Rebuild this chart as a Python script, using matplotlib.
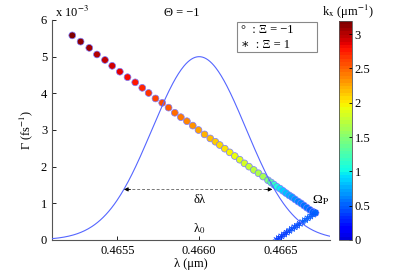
import matplotlib
matplotlib.use('Agg')
import matplotlib.pyplot as plt
from matplotlib.colors import ListedColormap
import numpy as np

plt.rcParams['font.family'] = ['Liberation Serif', 'DejaVu Serif']
plt.rcParams['mathtext.fontset'] = 'stix'
plt.rcParams['font.size'] = 9

# Xi = -1 branch (circles): wavelength (um), growth rate (1e-3 fs^-1), kx (um^-1)
lam_circ = [0.465224, 0.465275, 0.465328, 0.465375, 0.465424, 0.465468, 0.465515,
            0.465562, 0.465609, 0.465652, 0.465691, 0.465733, 0.465774, 0.465813,
            0.465851, 0.465888, 0.465925, 0.465961, 0.465996, 0.466033, 0.466068,
            0.466099, 0.466126, 0.466157, 0.466187, 0.466218, 0.466248, 0.466277,
            0.466305, 0.466334, 0.466363, 0.466391, 0.466421, 0.466440, 0.466458,
            0.466476, 0.466495, 0.466513, 0.466531, 0.466550, 0.466568, 0.466586,
            0.466605, 0.466623, 0.466641, 0.466659, 0.466678, 0.466696, 0.466711]
gam_circ = [5.58, 5.41, 5.24, 5.06, 4.91, 4.75, 4.59, 4.44, 4.30, 4.15, 4.01, 3.86,
            3.74, 3.61, 3.47, 3.35, 3.24, 3.12, 3.00, 2.88, 2.77, 2.68, 2.59, 2.49,
            2.39, 2.29, 2.19, 2.09, 2.00, 1.91, 1.82, 1.73, 1.63, 1.57, 1.51, 1.45,
            1.40, 1.34, 1.28, 1.22, 1.17, 1.11, 1.05, 1.00, 0.94, 0.88, 0.82, 0.77, 0.74]
kx_circ = [3.15, 3.10, 3.05, 3.00, 2.95, 2.90, 2.85, 2.80, 2.75, 2.70, 2.65, 2.60,
           2.55, 2.50, 2.45, 2.40, 2.35, 2.30, 2.25, 2.20, 2.15, 2.10, 2.05, 2.00,
           1.95, 1.90, 1.85, 1.80, 1.75, 1.70, 1.65, 1.60, 1.45, 1.30, 1.15, 1.05,
           0.95, 0.88, 0.82, 0.76, 0.71, 0.67, 0.63, 0.60, 0.57, 0.55, 0.53, 0.51, 0.50]

# Xi = 1 branch (stars)
lam_star = [0.466711, 0.466695, 0.466679, 0.466663, 0.466647, 0.466631, 0.466615,
            0.466599, 0.466583, 0.466567, 0.466551, 0.466535, 0.466519, 0.466503,
            0.466487, 0.466473]
gam_star = [0.74, 0.69, 0.64, 0.59, 0.54, 0.49, 0.44, 0.39, 0.35, 0.30, 0.25, 0.20,
            0.15, 0.10, 0.05, 0.00]
kx_star = [0.50, 0.49, 0.48, 0.47, 0.46, 0.45, 0.44, 0.43, 0.42, 0.41, 0.40, 0.39,
           0.38, 0.37, 0.36, 0.35]

# pump spectrum (gaussian) parameters
lam0 = 0.4660
pump_peak = 5.0
pump_sigma = 0.000287

# delta-lambda arrow
dl_left = 0.465540
dl_right = 0.466448
dl_level = 1.38

kx_max = 3.19
cbar_ticks = [0, 0.5, 1, 1.5, 2, 2.5, 3]
cbar_labels = ['0', '0.5', '1', '1.5', '2', '2.5', '3']
x_ticks = [0.4655, 0.4660, 0.4665]
x_labels = ['0.4655', '0.4660', '0.4665']
y_ticks = [0, 1, 2, 3, 4, 5, 6]

fig = plt.figure(figsize=(3.99, 2.71), dpi=100)
ax = fig.add_axes([0.1303, 0.1144, 0.6967, 0.8118])
# jet without its darkest blues, in 64 steps like the reference colour bar
cmap = ListedColormap(plt.get_cmap('jet')(np.linspace(0.08, 1.0, 64)))

lam_line = np.linspace(0.4651, 0.4668, 300)
gauss = pump_peak * np.exp(-(lam_line - lam0) ** 2 / (2 * pump_sigma ** 2))

sc = ax.scatter(lam_circ, gam_circ, c=kx_circ, cmap=cmap, vmin=0, vmax=kx_max,
                s=24, marker='o', edgecolors='#7a7aff', linewidths=0.5, zorder=3)
ax.scatter(lam_star, gam_star, c=kx_star, cmap=cmap, vmin=0, vmax=kx_max,
           s=26, marker=(8, 2, 0), linewidths=0.4, alpha=0.85, zorder=3)
ax.plot(lam_line, gauss, color='#5566ff', lw=0.8, zorder=4)

ax.plot([dl_left + 0.00002, dl_right - 0.00002], [dl_level, dl_level],
        ls=(0, (3, 2)), color='#777777', lw=0.7, zorder=2)
for x0, x1 in [(dl_left + 0.00004, dl_left), (dl_right - 0.00004, dl_right)]:
    ax.annotate('', xy=(x1, dl_level), xytext=(x0, dl_level),
                arrowprops=dict(arrowstyle='-|>', color='black', lw=0.6,
                                mutation_scale=6, shrinkA=0, shrinkB=0), zorder=5)

ax.text(0.4660, 1.08, 'δλ', ha='center', va='center', fontsize=9)
ax.text(0.46600, 0.30, r'λ$_0$', ha='center', va='center', fontsize=9)
ax.text(0.466690, 1.10, r'Ω$_{\mathrm{P}}$', ha='left', va='center', fontsize=9.5)

ax.set_xlim(0.4651, 0.4668)
ax.set_ylim(0, 6)
ax.set_xticks(x_ticks)
ax.set_xticklabels(x_labels)
ax.set_yticks(y_ticks)
ax.tick_params(direction='in', length=3, width=0.6, colors='black', labelsize=9)
for s in ['top', 'right']:
    ax.spines[s].set_visible(False)
for s in ['left', 'bottom']:
    ax.spines[s].set_color('#555555')
    ax.spines[s].set_linewidth(0.8)
ax.set_xlabel('λ (μm)', labelpad=1)
ax.set_ylabel(r'Γ (fs$^{-1}$)', labelpad=4)

fig.text(55 / 399, 1 - 17 / 271, r'x 10$^{-3}$', ha='left', va='baseline', fontsize=9)
fig.text(182 / 399, 1 - 13 / 271, 'Θ = −1', ha='center', va='center', fontsize=9)

# legend-like box
box = plt.Rectangle((236.7 / 399, 1 - 52 / 271), 80.6 / 399, 30 / 271,
                    transform=fig.transFigure, facecolor='white',
                    edgecolor='#888888', lw=0.8)
fig.patches.append(box)
fig.text(241 / 399, 1 - 30 / 271, '°  : Ξ = −1', ha='left', va='center', fontsize=9)
fig.text(241 / 399, 1 - 45 / 271, '∗  : Ξ = 1', ha='left', va='center', fontsize=9)

cax = fig.add_axes([339 / 399, 0.1144, 13 / 399, 0.808])
cb = fig.colorbar(sc, cax=cax)
cb.set_ticks(cbar_ticks)
cb.set_ticklabels(cbar_labels)
cb.ax.tick_params(direction='in', length=2, width=0.6, labelsize=9, pad=2)
cb.outline.set_linewidth(0.6)
cb.outline.set_edgecolor('#555555')
fig.text(348 / 399, 1 - 12 / 271, r'k$_\mathrm{x}$ (μm$^{-1}$)', ha='center',
         va='center', fontsize=9)

fig.savefig('out.png', dpi=100)
